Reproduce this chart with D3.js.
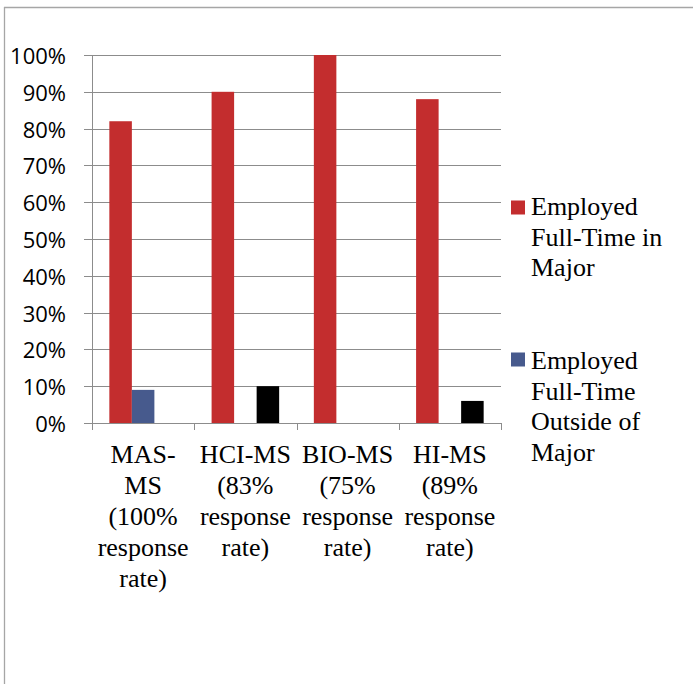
<!DOCTYPE html>
<html>
<head>
<meta charset="utf-8">
<script src="https://cdn.jsdelivr.net/npm/d3@7"></script>
<style>
  html, body { margin: 0; padding: 0; background: #fff; }
  svg { display: block; }
</style>
</head>
<body>
<svg id="chart" width="693" height="684"></svg>
<script>
// ---- data ----
const categories = ["MAS-MS", "HCI-MS", "BIO-MS", "HI-MS"];
const categoryLabelLines = [
  ["MAS-", "MS", "(100%", "response", "rate)"],
  ["HCI-MS", "(83%", "response", "rate)"],
  ["BIO-MS", "(75%", "response", "rate)"],
  ["HI-MS", "(89%", "response", "rate)"]
];
const seriesNames = ["Employed Full-Time in Major", "Employed Full-Time Outside of Major", "Other"];
const inMajor = [0.82, 0.90, 1.00, 0.88];
const outsideMajor = [0.09, 0, 0, 0];
const thirdSeries = [0, 0.10, 0, 0.06];
const yTicks = [0, 0.1, 0.2, 0.3, 0.4, 0.5, 0.6, 0.7, 0.8, 0.9, 1.0];
const legendLines = [
  ["Employed", "Full-Time in", "Major"],
  ["Employed", "Full-Time", "Outside of", "Major"]
];

(function () {
const colors = ["#C32D2E", "#475A8D", "#000000"];
const seriesValues = [inMajor, outsideMajor, thirdSeries];
const SERIF = '"Liberation Serif"';
const SANS = '"Open Sans"';

const svg = d3.select("#chart");

// frame border (left & top)
svg.append("line").attr("x1", 4.5).attr("x2", 4.5).attr("y1", 7).attr("y2", 684)
  .attr("stroke", "#A6A6A6").attr("stroke-width", 1.3);
svg.append("line").attr("x1", 4).attr("x2", 693).attr("y1", 7.5).attr("y2", 7.5)
  .attr("stroke", "#A6A6A6").attr("stroke-width", 1.3);

const pLeft = 92, pRight = 501, pTop = 55, pBottom = 423;

const y = d3.scaleLinear().domain([0, 1]).range([pBottom, pTop]);
const x = d3.scaleBand().domain(categories).range([pLeft, pRight]).padding(0);
const xs = d3.scaleBand().domain(d3.range(seriesValues.length))
  .range([0, x.bandwidth()]).paddingInner(0).paddingOuter(0.77);

// gridlines with tick extension to the left
svg.append("g").selectAll("line").data(yTicks).join("line")
  .attr("x1", pLeft - 8).attr("x2", pRight)
  .attr("y1", d => Math.round(y(d)) + 0.5).attr("y2", d => Math.round(y(d)) + 0.5)
  .attr("stroke", "#8C8C8C").attr("stroke-width", 1);

// y labels
svg.append("g").selectAll("text").data(yTicks).join("text")
  .style("font-family", SANS)
  .attr("x", 66).attr("y", d => y(d))
  .attr("text-anchor", "end").attr("dominant-baseline", "central")
  .attr("font-size", 22).attr("fill", "#000")
  .text(d => Math.round(d * 100) + "%");

// y axis line
svg.append("line").attr("x1", pLeft + 0.5).attr("x2", pLeft + 0.5)
  .attr("y1", pTop).attr("y2", pBottom)
  .attr("stroke", "#8C8C8C").attr("stroke-width", 1);

// bars
const groups = svg.append("g").selectAll("g").data(categories).join("g")
  .attr("transform", d => `translate(${x(d)},0)`);
groups.selectAll("rect")
  .data((d, i) => seriesValues.map((s, k) => ({ k, v: s[i] })).filter(e => e.v > 0))
  .join("rect")
  .attr("x", d => xs(d.k)).attr("width", xs.bandwidth())
  .attr("y", d => y(d.v)).attr("height", d => y(0) - y(d.v))
  .attr("fill", d => colors[d.k]);

// x axis line and ticks
svg.append("line").attr("x1", pLeft).attr("x2", pRight)
  .attr("y1", pBottom + 0.5).attr("y2", pBottom + 0.5)
  .attr("stroke", "#8C8C8C").attr("stroke-width", 1);
const xTickPos = categories.map(c => x(c)).concat([x(categories[categories.length - 1]) + x.bandwidth()]);
svg.append("g").selectAll("line").data(xTickPos).join("line")
  .attr("x1", d => Math.round(d) + 0.5).attr("x2", d => Math.round(d) + 0.5)
  .attr("y1", pBottom).attr("y2", pBottom + 7)
  .attr("stroke", "#8C8C8C").attr("stroke-width", 1);

// category labels
categories.forEach((c, i) => {
  const cx = x(c) + x.bandwidth() / 2;
  svg.append("g").selectAll("text").data(categoryLabelLines[i]).join("text")
    .style("font-family", SERIF)
    .attr("text-anchor", "middle")
    .attr("font-size", 26).attr("fill", "#000")
    .attr("x", cx).attr("y", (t, j) => 463 + j * 31)
    .text(t => t);
});

// legend (two entries)
const legendTops = [200.5, 352.5];
const legendBase = [215, 369];
legendLines.forEach((lines, k) => {
  svg.append("rect").attr("x", 511).attr("y", legendTops[k])
    .attr("width", 14).attr("height", 14).attr("fill", colors[k]);
  svg.append("g").selectAll("text").data(lines).join("text")
    .style("font-family", SERIF)
    .attr("font-size", 26).attr("fill", "#000")
    .attr("x", 531).attr("y", (s, j) => legendBase[k] + j * 30.5)
    .text(s => s);
});
})();
</script>
</body>
</html>
